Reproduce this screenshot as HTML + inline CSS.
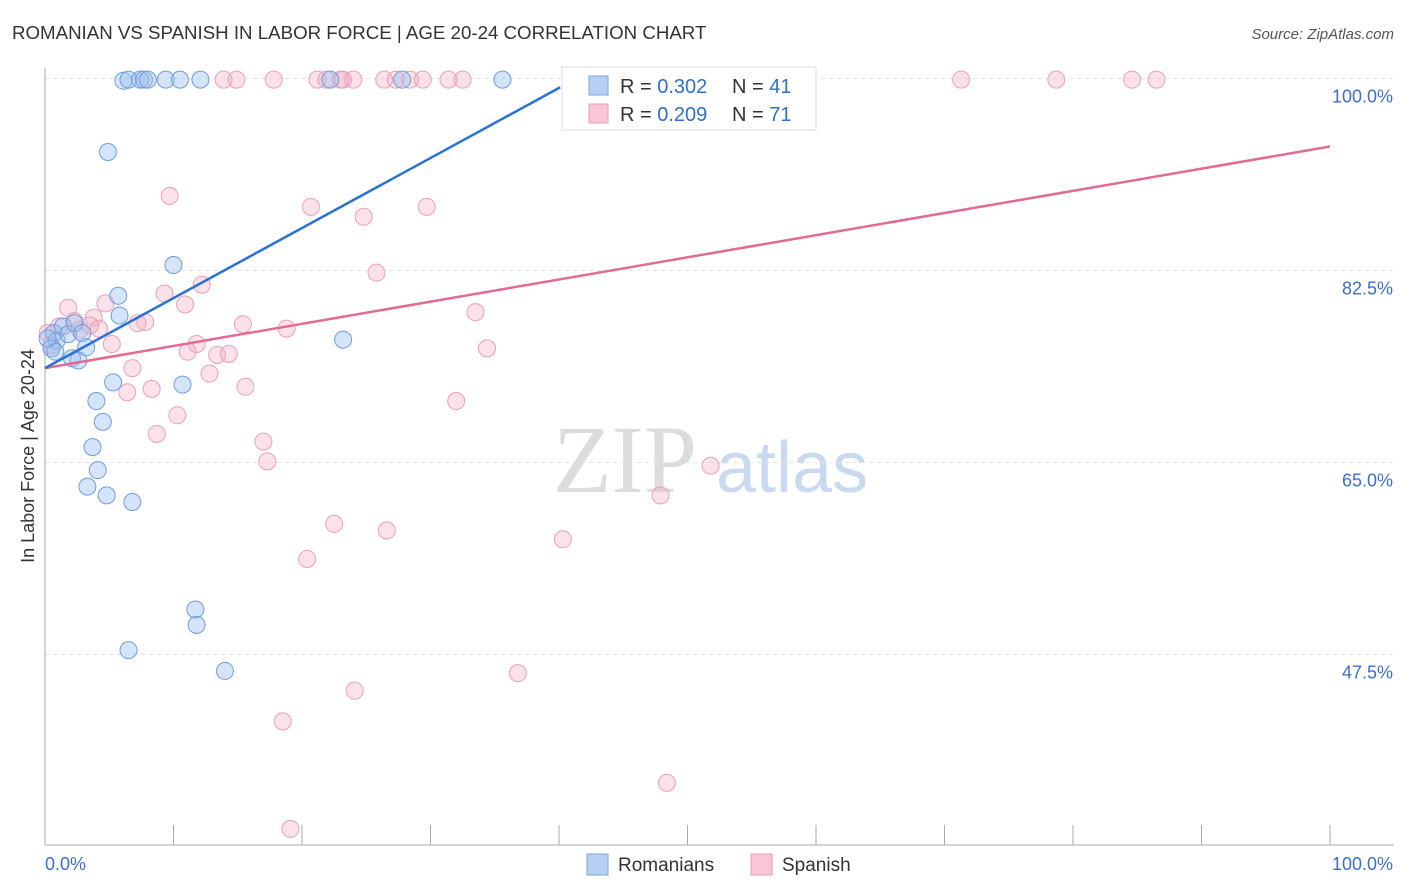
<!DOCTYPE html>
<html><head><meta charset="utf-8">
<style>
body{margin:0;background:#fff;font-family:"Liberation Sans",sans-serif;}
svg{display:block}
</style></head>
<body>
<svg id="chart" width="1406" height="892" xmlns="http://www.w3.org/2000/svg">
<text x="12" y="39" font-size="18.7" fill="#333">ROMANIAN VS SPANISH IN LABOR FORCE | AGE 20-24 CORRELATION CHART</text>
<text x="1394" y="39" font-size="15" fill="#555" font-style="italic" text-anchor="end">Source: ZipAtlas.com</text>
<text transform="translate(34,456) rotate(-90)" font-size="18" fill="#333" text-anchor="middle">In Labor Force | Age 20-24</text>
<g>
<text x="553" y="492" font-size="96" fill="#dcdcdc" font-family="Liberation Serif,serif">ZIP</text>
<text x="716" y="492" font-size="72" fill="#c9daf0">atlas</text>
</g>
<g id="grid"></g>
<g id="axes"></g>
<g id="pts"></g>
<g id="trends"></g>
<g>
<rect x="562" y="67" width="254" height="63" fill="#fff" stroke="#ddd"/>
<rect x="589" y="76" width="19" height="19" fill="#b5d0f3" stroke="#7ea6dc"/>
<rect x="589" y="104" width="19" height="19" fill="#f8c6d6" stroke="#e99ab4"/>
<text x="620" y="93" font-size="20" fill="#333">R = <tspan fill="#2f6fcf">0.302</tspan></text>
<text x="732" y="93" font-size="20" fill="#333">N = <tspan fill="#2f6fcf">41</tspan></text>
<text x="620" y="121" font-size="20" fill="#333">R = <tspan fill="#2f6fcf">0.209</tspan></text>
<text x="732" y="121" font-size="20" fill="#333">N = <tspan fill="#2f6fcf">71</tspan></text>
</g>
<g>
<rect x="587" y="854" width="21" height="21" fill="#b5d0f3" stroke="#7ea6dc"/>
<text x="618" y="871" font-size="19" fill="#333">Romanians</text>
<rect x="751" y="854" width="21" height="21" fill="#f8c6d6" stroke="#e99ab4"/>
<text x="782" y="871" font-size="19" fill="#333">Spanish</text>
</g>
</svg>
<script>
const yTicks=[100,82.5,65,47.5];
const yTickLabels=["100.0%","82.5%","65.0%","47.5%"];
const xTickLabels=["0.0%","100.0%"];
const romX=[6.1,6.5,7.4,7.7,8.0,9.4,10.5,12.1,22.2,27.8,35.6,4.9,10.0,5.7,5.8,0.7,0.9,1.4,1.8,2.3,2.9,3.2,0.5,0.8,2.1,2.6,5.3,10.7,23.2,4.0,4.5,3.7,4.1,3.3,4.8,6.8,11.7,11.8,6.5,14.0,0.2];
const romY=[99.8,99.9,99.9,99.9,99.9,99.9,99.9,99.9,99.9,99.9,99.9,93.3,83.0,80.2,78.4,76.8,76.1,77.4,76.7,77.7,76.8,75.5,75.4,75.1,74.5,74.3,72.3,72.1,76.2,70.6,68.7,66.4,64.3,62.8,62.0,61.4,51.6,50.2,47.9,46.0,76.3];
const spaX=[13.9,14.9,17.8,21.2,21.9,23.0,23.2,24.0,26.4,27.3,28.4,29.4,31.4,32.5,41.8,46.5,71.3,78.7,84.6,86.5,9.7,20.7,24.8,29.7,12.2,25.8,9.3,10.9,4.7,1.8,33.5,7.8,7.2,3.8,2.3,1.1,4.2,15.4,18.8,5.2,11.8,11.1,13.4,14.3,34.4,6.8,12.8,6.4,8.3,15.6,10.3,32.0,8.7,17.0,17.3,51.8,47.9,22.5,26.6,40.3,20.4,36.8,24.1,18.5,48.4,19.1,0.2,0.5,2.7,3.5];
const spaY=[99.9,99.9,99.9,99.9,99.9,99.9,99.9,99.9,99.9,99.9,99.9,99.9,99.9,99.9,99.9,99.9,99.9,99.9,99.9,99.9,89.3,88.3,87.4,88.3,81.2,82.3,80.4,79.4,79.5,79.1,78.7,77.8,77.7,78.2,77.9,77.4,77.2,77.6,77.2,75.8,75.8,75.1,74.8,74.9,75.4,73.6,73.1,71.4,71.7,71.9,69.3,70.6,67.6,66.9,65.1,64.7,62.0,59.4,58.8,58.0,56.2,45.8,44.2,41.4,35.8,31.6,76.8,75.7,77.1,77.5];
const romTrendX=[0,40.1];
const romTrendY=[73.6,99.2];
const spaTrendX=[0,100];
const spaTrendY=[73.6,93.8];

const X=v=>45+v*12.85;
const Y=v=>78.5+(100-v)*10.971;
const NS="http://www.w3.org/2000/svg";
function mk(tag,attrs,parent){const e=document.createElementNS(NS,tag);for(const k in attrs)e.setAttribute(k,attrs[k]);parent.appendChild(e);return e;}
const grid=document.getElementById('grid'),axes=document.getElementById('axes'),pts=document.getElementById('pts'),tr=document.getElementById('trends');
yTicks.forEach((t,i)=>{
 const l=mk('line',{x1:45,x2:1394,y1:Y(t),y2:Y(t),stroke:'#e3e3e3','stroke-dasharray':'4,4'},grid);
 
 
 const tx=mk('text',{x:1393,y:Y(t)+24,'font-size':18,fill:'#3a6fd0','text-anchor':'end'},axes);
 tx.textContent=yTickLabels[i];
 
 
});
const ax=mk('line',{x1:45,x2:1394,y1:845,y2:845,stroke:'#aaa'},axes);


const ay=mk('line',{x1:45,x2:45,y1:68,y2:845,stroke:'#aaa'},axes);


for(let i=0;i<=10;i++){
 const t=mk('line',{x1:X(i*10),x2:X(i*10),y1:825,y2:845,stroke:'#aaa'},axes);
 
 
}
const xl0=mk('text',{x:45,y:870,'font-size':18,fill:'#3a6fd0'},axes);xl0.textContent=xTickLabels[0];


const xl1=mk('text',{x:1393,y:870,'font-size':18,fill:'#3a6fd0','text-anchor':'end'},axes);xl1.textContent=xTickLabels[1];


spaX.forEach((v,i)=>{
 const c=mk('circle',{cx:X(v),cy:Y(spaY[i]),r:8.5,fill:'rgba(244,170,195,0.35)',stroke:'#eaa0b9','stroke-width':1},pts);
 
 
});
romX.forEach((v,i)=>{
 const c=mk('circle',{cx:X(v),cy:Y(romY[i]),r:8.5,fill:'rgba(150,190,240,0.4)',stroke:'#6f9ddc','stroke-width':1},pts);
 
 
});
const t1=mk('line',{x1:X(spaTrendX[0]),y1:Y(spaTrendY[0]),x2:X(spaTrendX[1]),y2:Y(spaTrendY[1]),stroke:'#e46a93','stroke-width':2.5},tr);


const t2=mk('line',{x1:X(romTrendX[0]),y1:Y(romTrendY[0]),x2:X(romTrendX[1]),y2:Y(romTrendY[1]),stroke:'#2a72d4','stroke-width':2.5},tr);


</script>
</body></html>
